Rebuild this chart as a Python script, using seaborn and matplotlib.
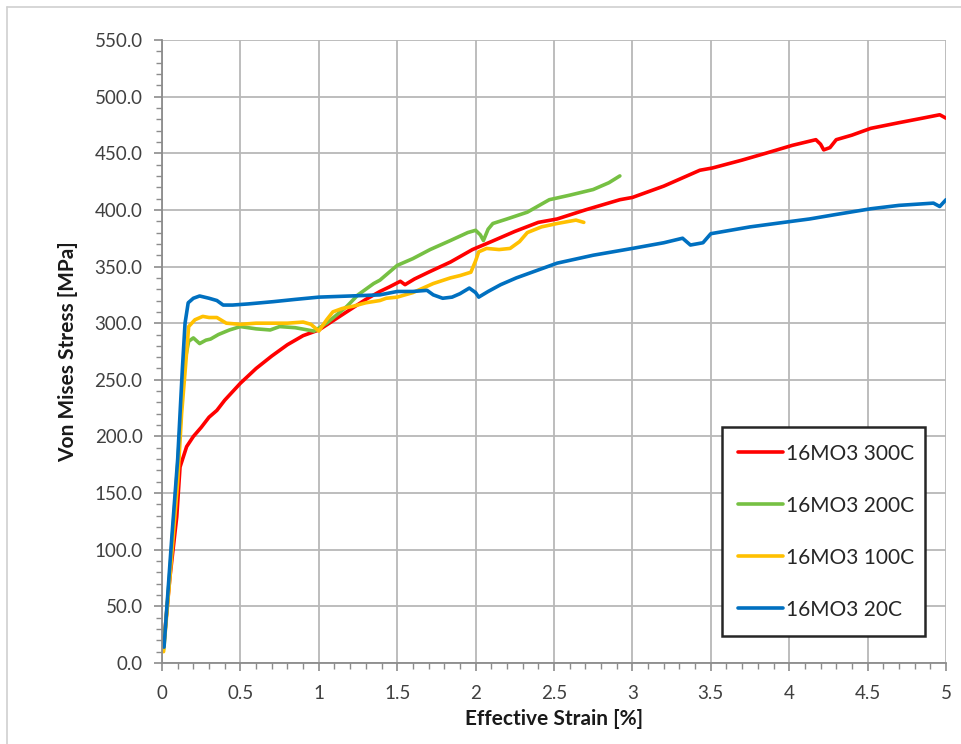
import numpy as np
import pandas as pd
import matplotlib
matplotlib.use("Agg")
import matplotlib.pyplot as plt
from matplotlib.ticker import MultipleLocator, FuncFormatter
import seaborn as sns

# Stress-strain curves of 16MO3 steel at four test temperatures
strain_300 = [0.01, 0.05, 0.094, 0.115, 0.157, 0.20, 0.25, 0.30, 0.35, 0.40, 0.50, 0.60, 0.70,
              0.80, 0.90, 1.00, 1.10, 1.20, 1.30, 1.39, 1.45, 1.52, 1.55, 1.61, 1.70, 1.84,
              1.98, 2.10, 2.25, 2.40, 2.52, 2.70, 2.92, 3.00, 3.20, 3.43, 3.51, 3.70, 3.85,
              4.02, 4.17, 4.20, 4.22, 4.26, 4.30, 4.40, 4.52, 4.70, 4.85, 4.96, 5.00]
stress_300 = [15, 75, 129, 173, 191, 200, 208, 217, 223, 232, 247, 260, 271,
              281, 289, 294, 303, 312, 321, 328, 332, 337, 334, 339, 345, 354,
              365, 372, 381, 389, 392, 400, 409, 411, 421, 435, 437, 444, 450,
              457, 462, 458, 453, 455, 462, 466, 472, 477, 481, 484, 481]

strain_200 = [0.01, 0.05, 0.10, 0.14, 0.17, 0.20, 0.24, 0.28, 0.31, 0.36, 0.43, 0.50, 0.60,
              0.69, 0.75, 0.85, 0.97, 1.05, 1.12, 1.18, 1.25, 1.35, 1.39, 1.50, 1.60, 1.71,
              1.84, 1.95, 2.00, 2.03, 2.05, 2.08, 2.11, 2.20, 2.33, 2.47, 2.60, 2.75, 2.85, 2.92]
stress_200 = [12, 80, 175, 262, 284, 287, 282, 285, 286, 290, 294, 297, 295,
              294, 297, 296, 293, 300, 308, 315, 325, 335, 338, 351, 357, 365,
              373, 380, 382, 378, 373, 383, 388, 392, 398, 409, 413, 418, 424, 430]

strain_100 = [0.01, 0.05, 0.10, 0.125, 0.15, 0.17, 0.21, 0.26, 0.30, 0.35, 0.41, 0.50, 0.60,
              0.70, 0.80, 0.90, 0.95, 1.00, 1.05, 1.09, 1.15, 1.22, 1.30, 1.39, 1.43, 1.50,
              1.60, 1.73, 1.84, 1.90, 1.97, 2.00, 2.02, 2.07, 2.15, 2.22, 2.28, 2.33, 2.42,
              2.52, 2.60, 2.64, 2.69]
stress_100 = [10, 75, 160, 220, 262, 297, 303, 306, 305, 305, 300, 299, 300,
              300, 300, 301, 299, 293, 303, 310, 313, 315, 318, 320, 322, 323,
              327, 335, 340, 342, 345, 355, 363, 366, 365, 366, 372, 380, 385,
              388, 390, 391, 389]

strain_20 = [0.013, 0.06, 0.10, 0.13, 0.147, 0.167, 0.20, 0.24, 0.30, 0.35, 0.39, 0.45, 0.55,
             0.71, 0.85, 1.00, 1.20, 1.39, 1.50, 1.60, 1.69, 1.73, 1.79, 1.85, 1.90, 1.96,
             2.00, 2.02, 2.08, 2.16, 2.26, 2.40, 2.52, 2.75, 3.00, 3.20, 3.32, 3.37, 3.45,
             3.50, 3.75, 4.02, 4.13, 4.30, 4.52, 4.70, 4.92, 4.96, 5.00]
stress_20 = [14, 106, 180, 260, 300, 318, 322, 324, 322, 320, 316, 316, 317,
             319, 321, 323, 324, 325, 328, 328, 329, 325, 322, 323, 326, 331,
             327, 323, 328, 334, 340, 347, 353, 360, 366, 371, 375, 369, 371,
             379, 385, 390, 392, 396, 401, 404, 406, 403, 409]

series_names = ["16MO3 300C", "16MO3 200C", "16MO3 100C", "16MO3 20C"]
series_colors = ["#FF0000", "#76C043", "#FFC000", "#0070C0"]
curves = [(strain_300, stress_300), (strain_200, stress_200),
          (strain_100, stress_100), (strain_20, stress_20)]

frames = []
for name, (sx, sy) in zip(series_names, curves):
    frames.append(pd.DataFrame({"strain": sx, "stress": sy, "series": name,
                                "order": np.arange(len(sx))}))
df = pd.concat(frames, ignore_index=True)

sns.set_theme(style="white")
plt.rcParams["font.family"] = ["Lato", "DejaVu Sans"]

fig = plt.figure(figsize=(9.62, 7.44), dpi=100)
ax = fig.add_axes([162 / 962, 1 - 663 / 744, (946 - 162) / 962, (663 - 40) / 744])

sns.lineplot(data=df, x="strain", y="stress", hue="series", hue_order=series_names,
             palette=series_colors, sort=False, estimator=None, units="series",
             linewidth=2.6, ax=ax, legend=True)

ax.set_xlim(0, 5)
ax.set_ylim(0, 550)
ax.xaxis.set_major_locator(MultipleLocator(0.5))
ax.xaxis.set_minor_locator(MultipleLocator(0.1))
ax.yaxis.set_major_locator(MultipleLocator(50))
ax.yaxis.set_minor_locator(MultipleLocator(10))
ax.xaxis.set_major_formatter(FuncFormatter(lambda v, p: f"{v:g}"))
ax.yaxis.set_major_formatter(FuncFormatter(lambda v, p: f"{v:.1f}"))

grid_col = "#B8B8B8"
ax.grid(True, which="major", color=grid_col, linewidth=1.3)
ax.set_axisbelow(True)
for side in ["top", "right"]:
    ax.spines[side].set_visible(False)
for side in ["left", "bottom"]:
    ax.spines[side].set_color("#8C8C8C")
    ax.spines[side].set_linewidth(1.3)

ax.tick_params(which="major", direction="out", length=6, width=1.2, color="#8C8C8C",
               labelsize=13.5, labelcolor="#404040", left=True, bottom=True)
ax.tick_params(axis="y", which="major", pad=8)
ax.tick_params(axis="x", which="major", pad=10)
ax.tick_params(which="minor", direction="out", length=4, width=1.0, color="#8C8C8C",
               left=True, bottom=True)

ax.set_xlabel("Effective Strain [%]", fontsize=15, fontweight="bold", color="#1A1A1A",
              labelpad=5)
ax.set_ylabel("Von Mises Stress [MPa]", fontsize=15, fontweight="bold", color="#1A1A1A",
              labelpad=12)

handles, labels = ax.get_legend_handles_labels()
leg = ax.legend(handles, labels, loc="lower left",
                bbox_to_anchor=(0.714, 0.043, 0.259, 0.34), mode="expand",
                borderaxespad=0, fontsize=15, frameon=True, fancybox=False,
                framealpha=1, labelspacing=1.54, handlelength=2.15,
                handletextpad=0.15, borderpad=0.79)
leg.get_frame().set_edgecolor("#262626")
leg.get_frame().set_linewidth(1.8)
for line in leg.get_lines():
    line.set_linewidth(2.6)
for t in leg.get_texts():
    t.set_color("#262626")

# light chart-area border
fig.add_artist(plt.Line2D([7 / 962, 7 / 962], [0, 1 - 7 / 744], color="#D0D0D0",
                          linewidth=1.2, transform=fig.transFigure))
fig.add_artist(plt.Line2D([7 / 962, 1], [1 - 7 / 744, 1 - 7 / 744], color="#D0D0D0",
                          linewidth=1.2, transform=fig.transFigure))

fig.savefig("out.png", dpi=100)
